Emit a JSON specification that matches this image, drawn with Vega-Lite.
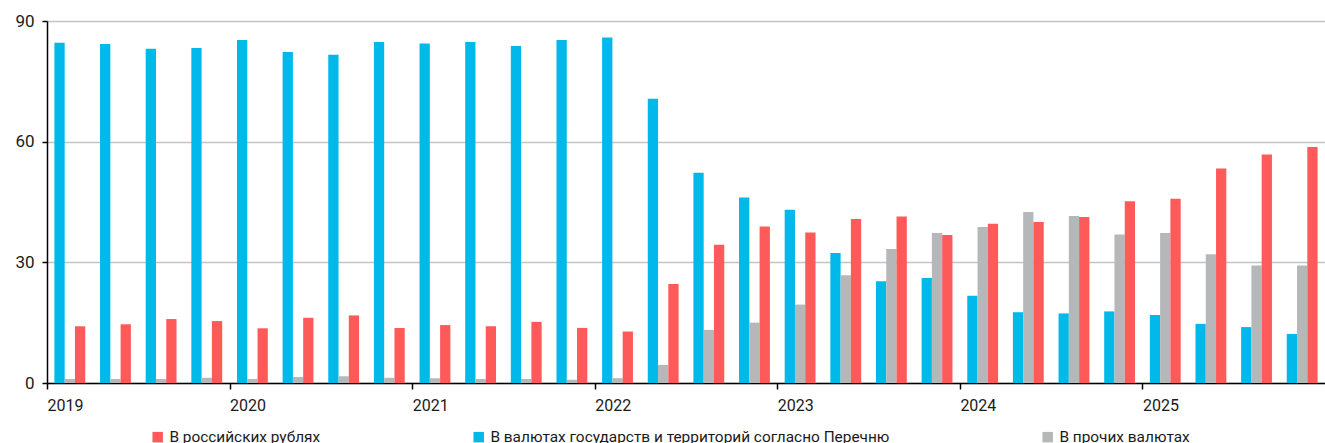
{
  "$schema": "https://vega.github.io/schema/vega-lite/v6.json",
  "autosize": {"type": "none"},
  "padding": {"left": 47, "top": 21, "right": 0, "bottom": 60},
  "width": 1278,
  "height": 362,
  "background": "white",
  "config": {
    "font": "Roboto",
    "view": {"stroke": null},
    "axis": {"labelFont": "Roboto", "labelFontSize": 16, "labelColor": "#1a1a1a"}
  },
  "data": {
    "values": [
      {"q": "2019-1", "s": "list", "v": 84.6}, {"q": "2019-1", "s": "other", "v": 1.0}, {"q": "2019-1", "s": "rub", "v": 14.1},
      {"q": "2019-2", "s": "list", "v": 84.3}, {"q": "2019-2", "s": "other", "v": 1.0}, {"q": "2019-2", "s": "rub", "v": 14.6},
      {"q": "2019-3", "s": "list", "v": 83.1}, {"q": "2019-3", "s": "other", "v": 1.0}, {"q": "2019-3", "s": "rub", "v": 15.9},
      {"q": "2019-4", "s": "list", "v": 83.3}, {"q": "2019-4", "s": "other", "v": 1.3}, {"q": "2019-4", "s": "rub", "v": 15.4},
      {"q": "2020-1", "s": "list", "v": 85.3}, {"q": "2020-1", "s": "other", "v": 1.0}, {"q": "2020-1", "s": "rub", "v": 13.6},
      {"q": "2020-2", "s": "list", "v": 82.3}, {"q": "2020-2", "s": "other", "v": 1.5}, {"q": "2020-2", "s": "rub", "v": 16.2},
      {"q": "2020-3", "s": "list", "v": 81.6}, {"q": "2020-3", "s": "other", "v": 1.7}, {"q": "2020-3", "s": "rub", "v": 16.8},
      {"q": "2020-4", "s": "list", "v": 84.8}, {"q": "2020-4", "s": "other", "v": 1.3}, {"q": "2020-4", "s": "rub", "v": 13.7},
      {"q": "2021-1", "s": "list", "v": 84.4}, {"q": "2021-1", "s": "other", "v": 1.2}, {"q": "2021-1", "s": "rub", "v": 14.4},
      {"q": "2021-2", "s": "list", "v": 84.8}, {"q": "2021-2", "s": "other", "v": 1.0}, {"q": "2021-2", "s": "rub", "v": 14.1},
      {"q": "2021-3", "s": "list", "v": 83.8}, {"q": "2021-3", "s": "other", "v": 1.0}, {"q": "2021-3", "s": "rub", "v": 15.2},
      {"q": "2021-4", "s": "list", "v": 85.3}, {"q": "2021-4", "s": "other", "v": 0.8}, {"q": "2021-4", "s": "rub", "v": 13.7},
      {"q": "2022-1", "s": "list", "v": 85.9}, {"q": "2022-1", "s": "other", "v": 1.2}, {"q": "2022-1", "s": "rub", "v": 12.8},
      {"q": "2022-2", "s": "list", "v": 70.7}, {"q": "2022-2", "s": "other", "v": 4.5}, {"q": "2022-2", "s": "rub", "v": 24.6},
      {"q": "2022-3", "s": "list", "v": 52.3}, {"q": "2022-3", "s": "other", "v": 13.2}, {"q": "2022-3", "s": "rub", "v": 34.4},
      {"q": "2022-4", "s": "list", "v": 46.1}, {"q": "2022-4", "s": "other", "v": 15.0}, {"q": "2022-4", "s": "rub", "v": 38.9},
      {"q": "2023-1", "s": "list", "v": 43.1}, {"q": "2023-1", "s": "other", "v": 19.5}, {"q": "2023-1", "s": "rub", "v": 37.4},
      {"q": "2023-2", "s": "list", "v": 32.3}, {"q": "2023-2", "s": "other", "v": 26.8}, {"q": "2023-2", "s": "rub", "v": 40.8},
      {"q": "2023-3", "s": "list", "v": 25.3}, {"q": "2023-3", "s": "other", "v": 33.3}, {"q": "2023-3", "s": "rub", "v": 41.4},
      {"q": "2023-4", "s": "list", "v": 26.1}, {"q": "2023-4", "s": "other", "v": 37.3}, {"q": "2023-4", "s": "rub", "v": 36.8},
      {"q": "2024-1", "s": "list", "v": 21.7}, {"q": "2024-1", "s": "other", "v": 38.8}, {"q": "2024-1", "s": "rub", "v": 39.6},
      {"q": "2024-2", "s": "list", "v": 17.6}, {"q": "2024-2", "s": "other", "v": 42.5}, {"q": "2024-2", "s": "rub", "v": 40.0},
      {"q": "2024-3", "s": "list", "v": 17.3}, {"q": "2024-3", "s": "other", "v": 41.5}, {"q": "2024-3", "s": "rub", "v": 41.3},
      {"q": "2024-4", "s": "list", "v": 17.8}, {"q": "2024-4", "s": "other", "v": 36.9}, {"q": "2024-4", "s": "rub", "v": 45.2},
      {"q": "2025-1", "s": "list", "v": 16.9}, {"q": "2025-1", "s": "other", "v": 37.3}, {"q": "2025-1", "s": "rub", "v": 45.8},
      {"q": "2025-2", "s": "list", "v": 14.7}, {"q": "2025-2", "s": "other", "v": 32.0}, {"q": "2025-2", "s": "rub", "v": 53.3},
      {"q": "2025-3", "s": "list", "v": 13.9}, {"q": "2025-3", "s": "other", "v": 29.2}, {"q": "2025-3", "s": "rub", "v": 56.8},
      {"q": "2025-4", "s": "list", "v": 12.2}, {"q": "2025-4", "s": "other", "v": 29.2}, {"q": "2025-4", "s": "rub", "v": 58.7}
    ]
  },
  "mark": {"type": "bar"},
  "encoding": {
    "x": {
      "field": "q",
      "type": "nominal",
      "sort": null,
      "scale": {"paddingInner": 0, "paddingOuter": 0},
      "axis": {
        "title": null,
        "values": ["2019-1", "2020-1", "2021-1", "2022-1", "2023-1", "2024-1", "2025-1"],
        "labelExpr": "substring(datum.value, 0, 4)",
        "ticks": true,
        "tickBand": "center",
        "tickOffset": -22.8,
        "tickOpacity": 1,
        "labelAngle": 0,
        "labelAlign": "left",
        "labelBaseline": "top",
        "labelOffset": 0,
        "labelPadding": 8,
        "tickSize": 6,
        "tickColor": "#000000",
        "tickWidth": 1.5,
        "domainColor": "#000000",
        "domainWidth": 1.5,
        "grid": false
      }
    },
    "xOffset": {
      "field": "s",
      "type": "nominal",
      "sort": ["list", "other", "rub"],
      "scale": {"paddingInner": 0, "paddingOuter": 0.72}
    },
    "y": {
      "field": "v",
      "type": "quantitative",
      "scale": {"domain": [0, 90], "nice": false},
      "axis": {
        "title": null,
        "values": [0, 30, 60, 90],
        "ticks": true,
        "tickSize": 5,
        "tickColor": "#000000",
        "tickWidth": 1.5,
        "domainColor": "#000000",
        "domainWidth": 1.5,
        "labelPadding": 8,
        "labelFontSize": 17,
        "grid": true,
        "gridColor": "#c4c4c4",
        "gridWidth": 1.5
      }
    },
    "color": {
      "field": "s",
      "type": "nominal",
      "scale": {
        "domain": ["rub", "list", "other"],
        "range": ["#ff5a5a", "#00b9eb", "#b6b7b9"]
      },
      "legend": {
        "title": null,
        "orient": "none",
        "direction": "horizontal",
        "legendX": 103,
        "legendY": 408,
        "symbolType": "square",
        "symbolSize": 110,
        "symbolStrokeWidth": 0,
        "labelFontSize": 15.4,
        "labelFont": "Roboto",
        "labelColor": "#1a1a1a",
        "labelLimit": 1000,
        "labelOffset": 4,
        "columnPadding": 150,
        "labelExpr": "datum.value == 'rub' ? 'В российских рублях' : datum.value == 'list' ? 'В валютах государств и территорий согласно Перечню' : 'В прочих валютах'"
      }
    }
  }
}
